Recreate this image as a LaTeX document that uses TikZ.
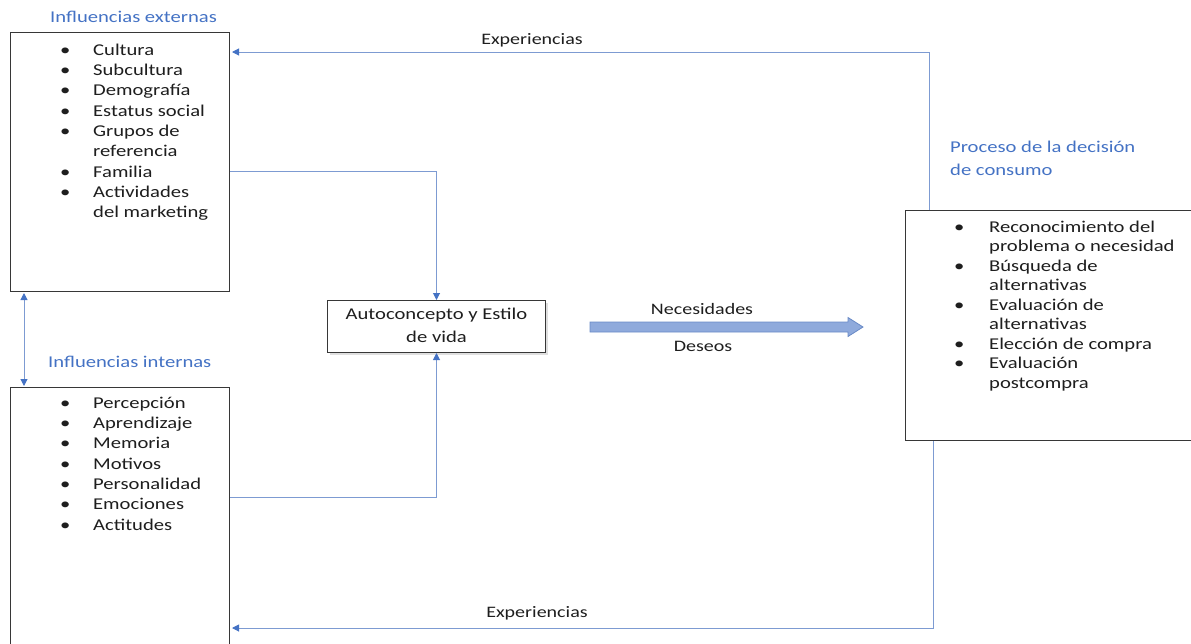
\documentclass[tikz,border=0pt]{standalone}
\usepackage{fontspec}
\setmainfont{Carlito}[FakeStretch=1.25]
\usetikzlibrary{arrows.meta,shadows}

\definecolor{ink}{RGB}{30,30,30}
\definecolor{titleblue}{RGB}{68,114,196}
\definecolor{linkblue}{RGB}{125,155,210}
\definecolor{tipblue}{RGB}{68,114,196}
\definecolor{bigfill}{RGB}{143,170,220}
\definecolor{bigedge}{RGB}{105,138,198}
\definecolor{boxedge}{RGB}{55,55,55}

\newcommand\listfont{\fontsize{16.5}{20.3}\selectfont}
\newcommand\procfont{\fontsize{16.5}{19.5}\selectfont}

\tikzset{
  box/.style={draw=boxedge, line width=1pt, anchor=north west, inner sep=0pt, fill=white},
  conn/.style={draw=linkblue, line width=1pt,
    -{Triangle[length=7pt,width=7pt,color=tipblue]}},
  twoway/.style={draw=linkblue, line width=1pt,
    {Triangle[length=7pt,width=7pt,color=tipblue]}-{Triangle[length=7pt,width=7pt,color=tipblue]}},
  lbl/.style={text=ink, font=\fontsize{16}{19}\selectfont, inner sep=0pt},
  heading/.style={text=titleblue, font=\fontsize{16.5}{23}\selectfont, inner sep=0pt},
  listtext/.style={text=ink, inner sep=0pt, anchor=north west},
}

\begin{document}
\begin{tikzpicture}[x=1pt,y=-1pt]
\useasboundingbox (0,0) rectangle (1191,643);

% boxes
\node[box, minimum width=219pt, minimum height=259pt] (ext) at (10,32) {};
\node[box, minimum width=219pt, minimum height=280pt] (int) at (10,387) {};
\node[box, minimum width=300pt, minimum height=230pt] (proc) at (905,210) {};
\node[box, minimum width=218pt, minimum height=52pt,
      drop shadow={shadow xshift=2pt, shadow yshift=-2pt, opacity=0.25}] (auto) at (327,300) {};

% headings
\node[heading, anchor=base west] (extttl) at (50,22) {Influencias externas};
\node[heading, anchor=base west] (intttl) at (48,367) {Influencias internas};
\node[heading, anchor=north west] (procttl) at (950,136)
  {\begin{tabular}{@{}l@{}}Proceso de la decisión\\ de consumo\end{tabular}};

% lists
\node[listtext, font=\listfont] (extlist) at (60,40.8)
  {\begin{tabular}{@{}p{33pt}@{}l@{}}
   \textbullet & Cultura\\
   \textbullet & Subcultura\\
   \textbullet & Demografía\\
   \textbullet & Estatus social\\
   \textbullet & Grupos de\\
               & referencia\\
   \textbullet & Familia\\
   \textbullet & Actividades\\
               & del marketing
   \end{tabular}};
\node[listtext, font=\listfont] (intlist) at (60,393.8)
  {\begin{tabular}{@{}p{33pt}@{}l@{}}
   \textbullet & Percepción\\
   \textbullet & Aprendizaje\\
   \textbullet & Memoria\\
   \textbullet & Motivos\\
   \textbullet & Personalidad\\
   \textbullet & Emociones\\
   \textbullet & Actitudes
   \end{tabular}};
\node[listtext, font=\procfont] (proclist) at (954,218.4)
  {\begin{tabular}{@{}p{35pt}@{}l@{}}
   \textbullet & Reconocimiento del\\
               & problema o necesidad\\
   \textbullet & Búsqueda de\\
               & alternativas\\
   \textbullet & Evaluación de\\
               & alternativas\\
   \textbullet & Elección de compra\\
   \textbullet & Evaluación\\
               & postcompra
   \end{tabular}};

% centre box text
\node[text=ink, font=\fontsize{16.5}{23}\selectfont, inner sep=0pt] (autotxt) at (auto.center)
  {\begin{tabular}{@{}c@{}}Autoconcepto y Estilo\\ de vida\end{tabular}};

% connectors
\coordinate (famy) at (0,171);
\coordinate (emoy) at (0,497);
\coordinate (topy) at (0,52);
\coordinate (boty) at (0,628);

\draw[conn] (ext.east |- famy) -| (auto.north);
\draw[conn] (int.east |- emoy) -| (auto.south);
\draw[twoway] ([xshift=14pt,yshift=-1pt]ext.south west) -- ([xshift=14pt,yshift=1pt]int.north west);
\draw[conn] ([xshift=24pt]proc.north west) |- ([xshift=2pt]ext.east |- topy);
\draw[conn] ([xshift=28pt]proc.south west) |- ([xshift=2pt]int.east |- boty);

% needs and desires arrow
\coordinate (na) at (590,327);
\draw[draw=bigedge, fill=bigfill, line width=0.8pt]
  (na) ++(0,-5) -- ++(258,0) -- ++(0,-4.5) -- ++(15,9.5) -- ++(-15,9.5) -- ++(0,-4.5) -- ++(-258,0) -- cycle;

% labels
\node[lbl] (nec) at (702,309) {Necesidades};
\node[lbl] (des) at (703,346) {Deseos};
\node[lbl] (exptop) at (532,40) {Experiencias};
\node[lbl] (expbot) at (537,613) {Experiencias};
\end{tikzpicture}
\end{document}
